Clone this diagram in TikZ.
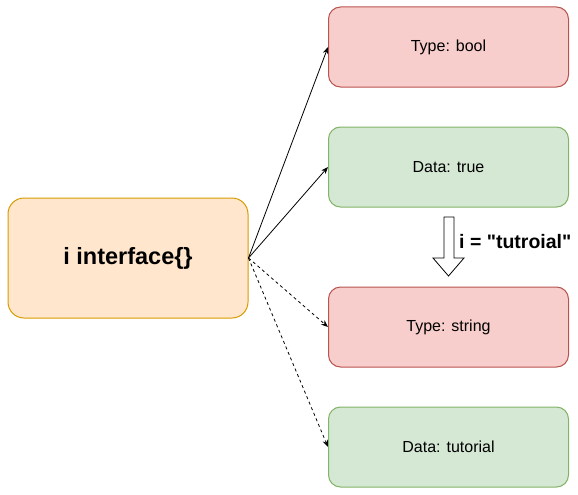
\documentclass[tikz,border=0pt]{standalone}
\usepackage{fontspec}
\setmainfont{Liberation Sans}[Ligatures=TeXOff]
\usetikzlibrary{arrows.meta}
\definecolor{typefill}{HTML}{F8CECC}
\definecolor{typeline}{HTML}{B85450}
\definecolor{datafill}{HTML}{D5E8D4}
\definecolor{dataline}{HTML}{82B366}
\definecolor{ifacefill}{HTML}{FFE6CC}
\definecolor{ifaceline}{HTML}{D79B00}
\begin{document}
\begin{tikzpicture}[x=1pt,y=-1pt,
    box/.style={draw,line width=1pt,rounded corners=12pt,minimum width=240pt,minimum height=80pt,font=\fontsize{16}{19}\selectfont},
    typebox/.style={box,fill=typefill,draw=typeline},
    databox/.style={box,fill=datafill,draw=dataline},
    link/.style={-{Stealth[length=7pt,width=5.5pt]},line width=0.8pt},
    dashlink/.style={link,dash pattern=on 3pt off 3pt}] %interface i antes y despues de asignar
    \useasboundingbox (0,0) rectangle (578,495);

    \node[box,fill=ifacefill,draw=ifaceline,rounded corners=16pt,minimum height=120pt,font=\fontsize{23.5}{28}\selectfont\bfseries] (iface) at (128,258) {i interface\{\}};

    \node[typebox] (tbool) at (448.5,47) {Type: bool};
    \node[databox] (dtrue) at (448.5,167) {Data: true};
    \node[typebox] (tstring) at (448.5,327) {Type: string};
    \node[databox] (dtut) at (448.5,447) {Data: tutorial};

    \draw[link] (iface.east) -- (tbool.west);
    \draw[link] (iface.east) -- (dtrue.west);
    \draw[dashlink] (iface.east) -- (tstring.west);
    \draw[dashlink] (iface.east) -- (dtut.west);

    % flecha hueca entre los dos estados
    \draw[line width=0.8pt,fill=white] (444,217) -- (454,217) -- (454,258) -- (464,258) -- (448.5,276) -- (433,258) -- (444,258) -- cycle;
    \node[anchor=west,inner sep=1pt,font=\fontsize{19.5}{23}\selectfont\bfseries] (assign) at (458,242) {i = "tutroial"};
\end{tikzpicture}
\end{document}
